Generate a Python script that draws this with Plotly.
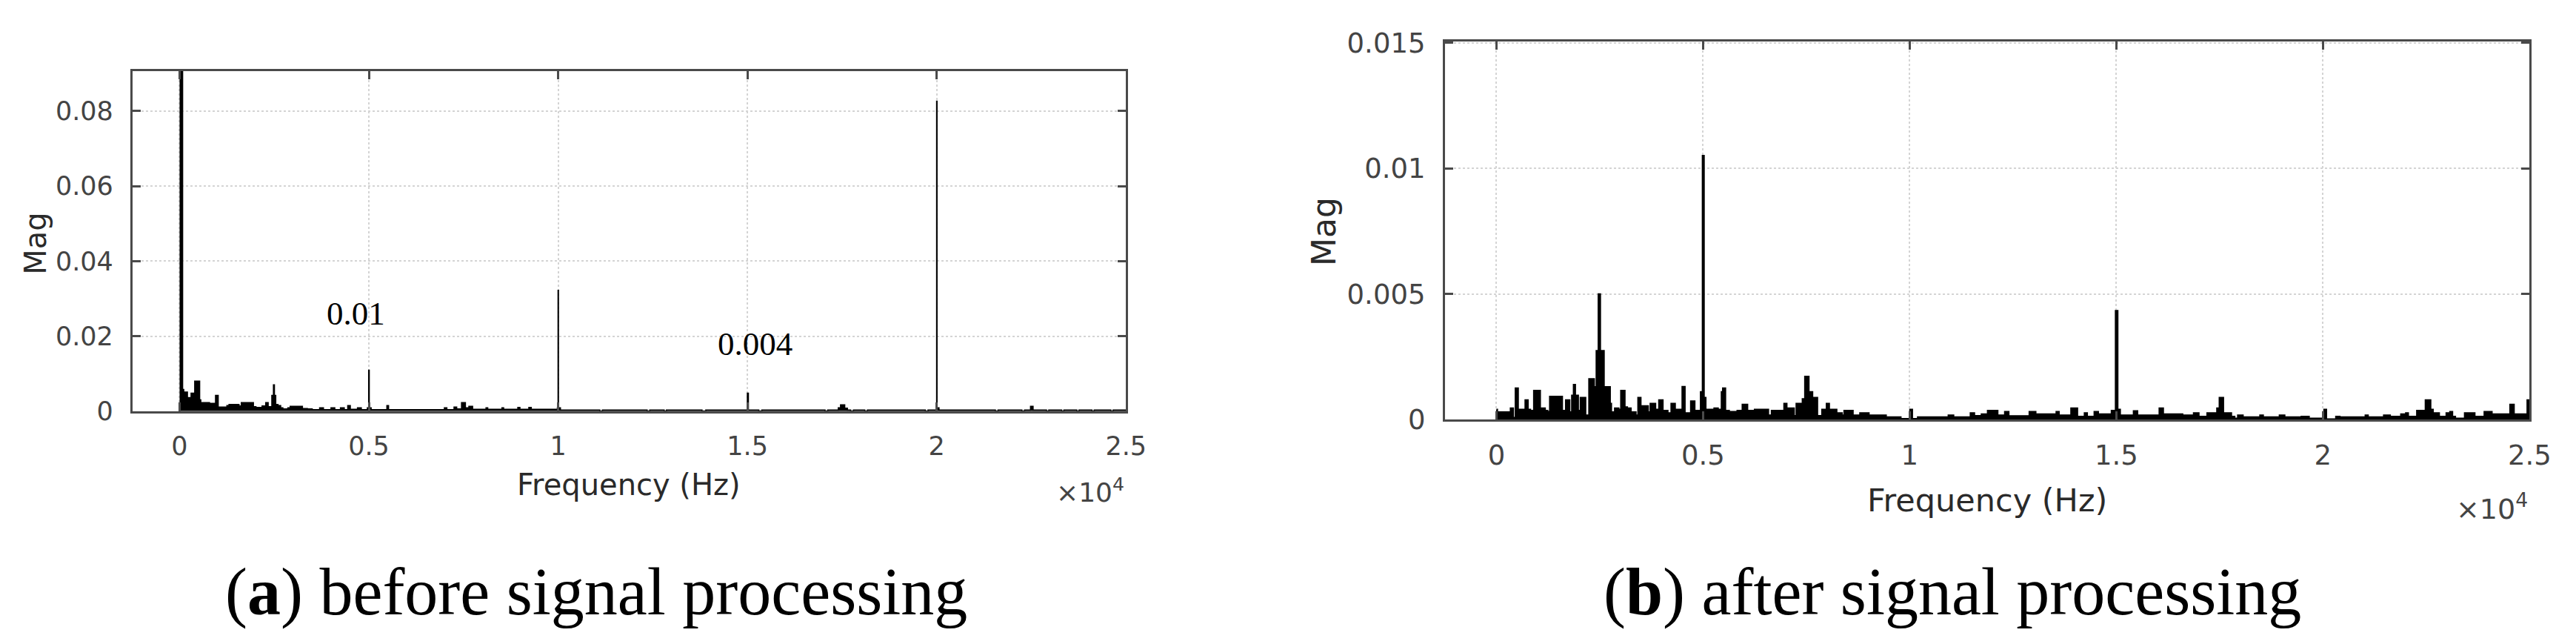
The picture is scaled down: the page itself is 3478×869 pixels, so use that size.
import plotly.graph_objects as go

# ---------------- data ----------------
# (a) before signal processing: spectrum steps (Hz, magnitude)
freq_a = [0, 80, 110, 207, 304, 400, 530, 560, 790, 950, 1020, 1250, 1306, 1570, 1630, 1950,
          2017, 2180, 2276, 2340, 2437, 2480, 2505, 2540, 2600, 2670, 2728, 2860, 2922, 3245,
          3375, 3504, 3700, 3800, 4000, 4100, 4250, 4350, 4442, 4510, 4700, 4800, 4960, 4995,
          5010, 5060, 5476, 5520, 6995, 7060, 7250, 7320, 7448, 7550, 7642, 7740, 8095, 8140,
          8515, 8560, 8935, 8990, 9226, 9290, 9980, 9998, 10008, 10060, 11100, 11170, 12350,
          12420, 12800, 12860, 13800, 13900, 14998, 15025, 15300, 15380, 17050, 17120, 17400,
          17460, 17570, 17640, 17727, 17800, 18100, 18170, 19700, 19770, 19990, 19998, 20008,
          20060, 21550, 21620, 22250, 22320, 22478, 22545, 22900, 22960, 23300, 23360, 23700,
          23760, 24100, 24160, 24600, 24660, 25000]
mag_a = [0.0907, 0.0058, 0.0051, 0.0036, 0.0048, 0.0080, 0.0030, 0.0023, 0.0021, 0.0042, 0.0011,
         0.0015, 0.0018, 0.0014, 0.0023, 0.0012, 0.0010, 0.0014, 0.0023, 0.0012, 0.0042, 0.0070,
         0.0042, 0.0018, 0.0015, 0.0009, 0.0006, 0.0009, 0.0013, 0.0007, 0.0006, 0.0004, 0.0009,
         0.0004, 0.0009, 0.0004, 0.0009, 0.0004, 0.0015, 0.0005, 0.0009, 0.0004, 0.0009, 0.0109,
         0.0009, 0.0004, 0.0015, 0.0004, 0.0009, 0.0004, 0.0011, 0.0006, 0.0023, 0.0009, 0.0013,
         0.0005, 0.0009, 0.0005, 0.0009, 0.0005, 0.0010, 0.0005, 0.0010, 0.0005, 0.0009, 0.0322,
         0.0009, 0.0003, 0.00005, 0.0003, 0.00005, 0.0003, 0.00005, 0.0003, 0.00005, 0.0003,
         0.0048, 0.0003, 0.00005, 0.0003, 0.00005, 0.0003, 0.0009, 0.0017, 0.0008, 0.0003,
         0.00005, 0.0003, 0.00005, 0.0003, 0.00005, 0.0003, 0.0009, 0.0826, 0.0009, 0.0003,
         0.00005, 0.0003, 0.00005, 0.0003, 0.0013, 0.0003, 0.00005, 0.0003, 0.00005, 0.0003,
         0.00005, 0.0003, 0.00005, 0.0003, 0.00005, 0.0003, 0.0003]

# (b) after signal processing
freq_b = [0, 18, 344, 404, 463, 522, 700, 760, 819, 908, 1056, 1175, 1234, 1294, 1590, 1680,
          1768, 1828, 1870, 1905, 1976, 2036, 2154, 2243, 2362, 2421, 2470, 2510, 2600, 2748,
          2777, 2866, 2955, 3015, 3104, 3163, 3252, 3371, 3430, 3490, 3668, 3727, 3846, 3935,
          4024, 4143, 4232, 4321, 4499, 4558, 4706, 4795, 4944, 4990, 5020, 5062, 5271, 5360,
          5449, 5480, 5538, 5628, 5800, 5830, 5954, 6072, 6250, 6577, 6660, 6963, 7022, 7200,
          7259, 7408, 7467, 7556, 7645, 7764, 7880, 7990, 8050, 8230, 8360, 8417, 8624, 8800,
          8950, 9010, 9426, 9782, 10010, 10060, 10197, 10939, 11058, 11473, 11562, 11740, 11889,
          12126, 12304, 12393, 12898, 13046, 13550, 13610, 13907, 14055, 14233, 14292, 14470,
          14559, 14886, 14985, 15030, 15090, 15420, 15509, 16043, 16132, 16600, 16874, 16993,
          17200, 17438, 17497, 17587, 17780, 17860, 17942, 18061, 18480, 18550, 18951, 19070,
          19480, 19660, 20030, 20080, 20316, 20405, 21029, 21088, 21474, 21623, 21889, 22008,
          22060, 22275, 22483, 22602, 22660, 22810, 22987, 23076, 23130, 23200, 23432, 23670,
          23907, 24085, 24530, 24620, 24650, 24946, 25000]
mag_b = [0.0004, 0.0003, 0.00045, 0.00008, 0.00125, 0.0004, 0.00078, 0.0004, 0.00036, 0.00115,
         0.00045, 0.00036, 0.00031, 0.00092, 0.00036, 0.00078, 0.0003, 0.00096, 0.00139, 0.00096,
         0.00036, 0.00087, 0.00017, 0.00162, 0.0013, 0.00274, 0.00499, 0.00274, 0.0013, 0.00064,
         0.0003, 0.00045, 0.0004, 0.00115, 0.0005, 0.00045, 0.0003, 0.00017, 0.00087, 0.00054,
         0.0003, 0.00064, 0.0004, 0.00078, 0.00036, 0.00026, 0.00064, 0.0004, 0.00131, 0.00026,
         0.00073, 0.00036, 0.0011, 0.0105, 0.00087, 0.0004, 0.00045, 0.0004, 0.0011, 0.00125,
         0.00036, 0.00031, 0.0001, 0.00036, 0.0006, 0.00036, 0.0004, 0.00017, 0.00036, 0.00064,
         0.00045, 0.00015, 0.00064, 0.00082, 0.00171, 0.0011, 0.00087, 0.00015, 0.0004, 0.00064,
         0.0004, 0.00026, 0.00017, 0.00036, 0.00017, 0.00026, 0.00026, 0.00017, 0.0001, 0.00003,
         0.0004, 0.00003, 0.0001, 0.00017, 0.0001, 0.00026, 0.00015, 0.00022, 0.00036, 0.00017,
         0.00031, 0.00014, 0.00031, 0.00022, 0.00031, 0.00017, 0.00045, 0.00012, 0.00026, 0.00012,
         0.00031, 0.00022, 0.00036, 0.00433, 0.0004, 0.00017, 0.00034, 0.00017, 0.00045, 0.00022,
         0.00017, 0.00026, 0.00012, 0.00026, 0.00045, 0.00087, 0.00026, 0.00012, 0.00005, 0.00017,
         0.0001, 0.00017, 0.0001, 0.00017, 0.0001, 0.00012, 0.00005, 0.0004, 0.00002, 0.00012,
         0.0001, 0.00017, 0.0001, 0.00017, 0.00012, 0.00022, 0.00026, 0.00012, 0.00036, 0.00078,
         0.0004, 0.00026, 0.00012, 0.00026, 0.00031, 0.00012, 0.00005, 0.00026, 0.00012, 0.00031,
         0.00022, 0.0006, 0.00012, 0.00022, 0.00078, 0.00078]

x_tickvals = [0, 5000, 10000, 15000, 20000, 25000]
x_ticktext = ["0", "0.5", "1", "1.5", "2", "2.5"]
ya_tickvals = [0, 0.02, 0.04, 0.06, 0.08]
ya_ticktext = ["0", "0.02", "0.04", "0.06", "0.08"]
yb_tickvals = [0, 0.005, 0.01, 0.015]
yb_ticktext = ["0", "0.005", "0.01", "0.015"]

peak_labels = ["0.01", "0.004"]
peak_label_pos = [(4655, 0.0260), (15200, 0.0179)]  # label centres in panel (a) data coords

captions = ["(<b>a</b>) before signal processing", "(<b>b</b>) after signal processing"]

# ---------------- figure ----------------
W, H = 3478, 869
def px(x):
    return x / W
def py(y):
    return 1 - y / H

AX = "#4a4a4a"
SANS = "DejaVu Sans, Liberation Sans, Arial, sans-serif"
SERIF = "Liberation Serif, Times New Roman, serif"
TICK_A = dict(family=SANS, size=35, color="#444444")
TICK_B = dict(family=SANS, size=37, color="#444444")

fig = go.Figure()
fig.add_trace(go.Scatter(x=freq_a, y=mag_a, mode="lines", xaxis="x", yaxis="y",
                         line=dict(color="black", width=1.6, shape="hv"),
                         fill="tozeroy", fillcolor="black", showlegend=False))
fig.add_trace(go.Scatter(x=freq_b, y=mag_b, mode="lines", xaxis="x2", yaxis="y2",
                         line=dict(color="black", width=2.4, shape="hv"),
                         fill="tozeroy", fillcolor="black", showlegend=False))

def xaxis_style(tf):
    return dict(range=[-1250, 25000], tickvals=x_tickvals, ticktext=x_ticktext,
                ticks="inside", ticklen=12, tickwidth=2.5, tickcolor=AX,
                showline=True, linecolor=AX, linewidth=2.5, mirror="ticks",
                showgrid=True, gridcolor="#d4d4d4", gridwidth=2, griddash="dot",
                zeroline=False, tickfont=tf, ticklabelstandoff=14)

def yaxis_style(tf):
    return dict(ticks="inside", ticklen=12, tickwidth=2.5, tickcolor=AX,
                showline=True, linecolor=AX, linewidth=2.5, mirror="ticks",
                showgrid=True, gridcolor="#d4d4d4", gridwidth=2, griddash="dot",
                zeroline=False, tickfont=tf, ticklabelstandoff=16)

fig.update_layout(
    width=W, height=H, margin=dict(l=0, r=0, t=0, b=0),
    paper_bgcolor="white", plot_bgcolor="white", showlegend=False,
    xaxis=dict(domain=[px(172), px(1525)], anchor="y", **xaxis_style(TICK_A)),
    yaxis=dict(domain=[py(554), py(72)], anchor="x", range=[0, 0.0907],
               tickvals=ya_tickvals, ticktext=ya_ticktext, **yaxis_style(TICK_A)),
    xaxis2=dict(domain=[px(1959), px(3436)], anchor="y2", **xaxis_style(TICK_B)),
    yaxis2=dict(domain=[py(566), py(30)], anchor="x2", range=[0, 0.01506],
                tickvals=yb_tickvals, ticktext=yb_ticktext, **yaxis_style(TICK_B)),
)

ann = []
# axis labels
ann.append(dict(x=px(40), y=py(317), text="Mag", textangle=-90,
                font=dict(family=SANS, size=40, color="#2a2a2a")))
ann.append(dict(x=px(848), y=py(658), text="Frequency (Hz)",
                font=dict(family=SANS, size=40, color="#2a2a2a")))
ann.append(dict(x=px(1525), y=py(666), text="×10<sup>4</sup>", xanchor="right",
                font=dict(family=SANS, size=36, color="#444444")))
ann.append(dict(x=px(1795), y=py(300), text="Mag", textangle=-90,
                font=dict(family=SANS, size=44, color="#2a2a2a")))
ann.append(dict(x=px(2697), y=py(680), text="Frequency (Hz)",
                font=dict(family=SANS, size=43, color="#2a2a2a")))
ann.append(dict(x=px(3436), y=py(690), text="×10<sup>4</sup>", xanchor="right",
                font=dict(family=SANS, size=38, color="#444444")))
# peak value labels (data coordinates of panel a)
for t, (fx, fy) in zip(peak_labels, peak_label_pos):
    ann.append(dict(x=fx, y=fy, xref="x", yref="y", text=t, xanchor="center",
                    font=dict(family=SERIF, size=45, color="black")))
# captions
ann.append(dict(x=px(804), y=py(810), text=captions[0],
                font=dict(family=SERIF, size=90, color="black")))
ann.append(dict(x=px(2650), y=py(810), text=captions[1],
                font=dict(family=SERIF, size=90, color="black")))

for a in ann:
    a.setdefault("xref", "paper")
    a.setdefault("yref", "paper")
    a.setdefault("showarrow", False)
    a.setdefault("xanchor", "center")
    a.setdefault("yanchor", "middle")
fig.update_layout(annotations=ann)

fig.write_html("out.html")
